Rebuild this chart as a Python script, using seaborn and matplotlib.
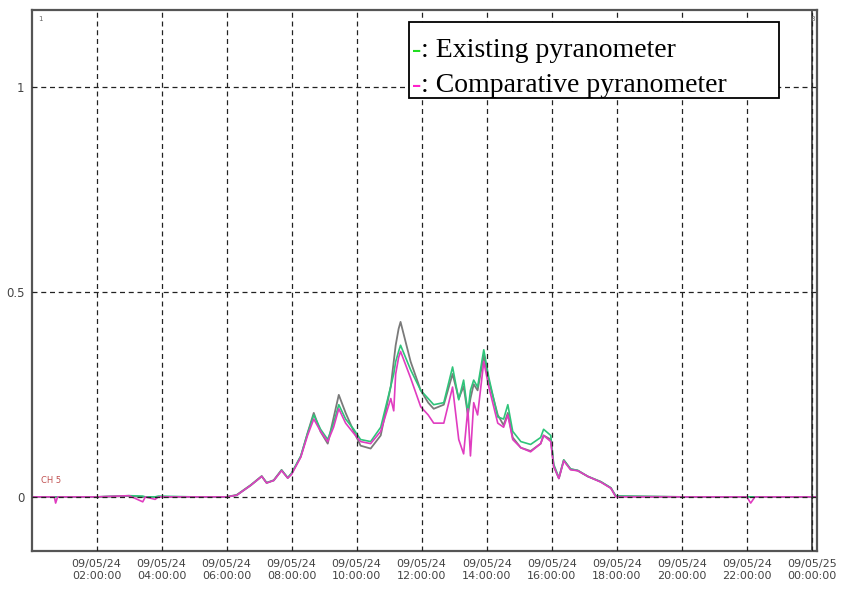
import matplotlib
matplotlib.use("Agg")
import matplotlib.pyplot as plt
from matplotlib.patches import Rectangle
import numpy as np
import pandas as pd
import seaborn as sns

# time of day in hours (09/05/24 00:00 = 0)
hours = [0, 0.70, 0.74, 0.80, 2.0, 3.0, 3.42, 3.5, 3.8, 3.9, 5.0, 6.0,
         6.31, 6.74, 7.08, 7.23, 7.45, 7.69, 7.88, 8.0, 8.28, 8.49, 8.68, 8.89,
         9.11, 9.29, 9.45, 9.66, 9.91, 10.12, 10.43, 10.74, 11.05, 11.14, 11.2, 11.29,
         11.35, 11.66, 11.97, 12.2, 12.37, 12.68, 12.95, 13.14, 13.29, 13.42, 13.5, 13.6,
         13.72, 13.91, 14.06, 14.34, 14.52, 14.65, 14.8, 15.05, 15.35, 15.66, 15.75, 15.97,
         16.06, 16.22, 16.37, 16.58, 16.8, 17.11, 17.51, 17.82, 17.97, 20.0, 22.0, 22.12,
         22.25, 24.15]

ch5_trace = [0, 0, 0, 0, 0, 0.002, 0, 0, 0, 0, 0, 0,
             0.005, 0.029, 0.051, 0.034, 0.041, 0.066, 0.046, 0.058, 0.098, 0.156, 0.205, 0.159,
             0.13, 0.193, 0.249, 0.205, 0.16, 0.125, 0.118, 0.15, 0.27, 0.33, 0.37, 0.41,
             0.427, 0.33, 0.26, 0.23, 0.215, 0.225, 0.3, 0.24, 0.27, 0.2, 0.24, 0.275,
             0.26, 0.345, 0.285, 0.2, 0.175, 0.205, 0.145, 0.12, 0.112, 0.13, 0.15, 0.14,
             0.075, 0.045, 0.09, 0.068, 0.064, 0.05, 0.037, 0.022, 0.002, 0, 0, 0,
             0, 0]

existing = [0, 0, 0, 0, 0, 0.003, 0.002, 0, 0, 0.002, 0, 0,
            0.004, 0.028, 0.05, 0.035, 0.04, 0.065, 0.047, 0.058, 0.1, 0.155, 0.2, 0.165,
            0.14, 0.18, 0.225, 0.19, 0.165, 0.14, 0.135, 0.17, 0.27, 0.3, 0.33, 0.355,
            0.37, 0.31, 0.26, 0.24, 0.225, 0.23, 0.317, 0.237, 0.285, 0.205, 0.26, 0.285,
            0.268, 0.359, 0.293, 0.195, 0.19, 0.225, 0.16, 0.135, 0.128, 0.145, 0.165, 0.15,
            0.08, 0.047, 0.09, 0.068, 0.065, 0.05, 0.037, 0.022, 0.002, 0, 0, 0,
            0, 0]

comparative = [0, 0, -0.015, 0, 0, 0.003, -0.012, 0, -0.006, 0, 0, 0,
               0.004, 0.028, 0.05, 0.034, 0.04, 0.064, 0.046, 0.055, 0.097, 0.15, 0.19, 0.16,
               0.135, 0.17, 0.215, 0.18, 0.155, 0.135, 0.13, 0.16, 0.24, 0.21, 0.3, 0.34,
               0.355, 0.29, 0.22, 0.2, 0.18, 0.18, 0.268, 0.14, 0.105, 0.215, 0.1, 0.23,
               0.2, 0.33, 0.27, 0.18, 0.17, 0.2, 0.14, 0.12, 0.11, 0.13, 0.15, 0.135,
               0.075, 0.045, 0.088, 0.066, 0.064, 0.05, 0.036, 0.021, 0.0, 0, 0, -0.015,
               0, 0]

tick_hours = [2, 4, 6, 8, 10, 12, 14, 16, 18, 20, 22, 24]
tick_labels = ["09/05/24\n02:00:00", "09/05/24\n04:00:00", "09/05/24\n06:00:00",
               "09/05/24\n08:00:00", "09/05/24\n10:00:00", "09/05/24\n12:00:00",
               "09/05/24\n14:00:00", "09/05/24\n16:00:00", "09/05/24\n18:00:00",
               "09/05/24\n20:00:00", "09/05/24\n22:00:00", "09/05/25\n00:00:00"]
y_ticks = [0, 0.5, 1]
y_labels = ["0", "0.5", "1"]

sns.set_style("white")
plt.rcParams['font.family'] = ['DejaVu Sans']

fig = plt.figure(figsize=(8.42, 5.89), dpi=100)
ax = fig.add_axes([0.0375, 0.0645, 0.9328, 0.9185])

sns.lineplot(x=hours, y=ch5_trace, ax=ax, color="#7a7a7a", lw=1.3, estimator=None, sort=False)
sns.lineplot(x=hours, y=existing, ax=ax, color="#2fc47a", lw=1.2, estimator=None, sort=False)
sns.lineplot(x=hours, y=comparative, ax=ax, color="#e03cc0", lw=1.2, estimator=None, sort=False)

ax.set_xlim(0, 24.16)
ax.set_ylim(-0.132, 1.188)
ax.set_xticks(tick_hours)
ax.set_xticklabels(tick_labels, fontsize=8, color="#444444", linespacing=1.15)
ax.set_yticks(y_ticks)
ax.set_yticklabels(y_labels, fontsize=8.5, color="#444444")
ax.tick_params(axis='x', length=0, pad=6)
ax.tick_params(axis='y', length=0, pad=5)
ax.grid(True, color="#222222", linestyle=(0, (4, 3)), lw=0.9)
ax.set_axisbelow(False)
for s in ax.spines.values():
    s.set_color("#555555")
    s.set_linewidth(1.6)
ax.axvline(24, color="#555555", lw=1.4)

ax.text(0.3, 0.03, "CH 5", fontsize=6, color="#c05050", va="bottom")
ax.text(0.2, 1.165, "1", fontsize=5, color="#666666", va="center")
ax.text(23.95, 1.165, "8", fontsize=5, color="#666666", va="center")

# legend box drawn as in the original: coloured dash + text
box = Rectangle((0.481, 0.837), 0.47, 0.141, transform=ax.transAxes, facecolor="white",
                edgecolor="black", lw=1.3, zorder=5)
ax.add_patch(box)
serif = {'family': 'Liberation Serif', 'size': 20}
rows = [("#22dd22", ": Existing pyranometer", 0.925), ("#ff22cc", ": Comparative pyranometer", 0.86)]
for col, txt, yy in rows:
    ax.text(0.4845, yy, "-", color=col, transform=ax.transAxes, va="center", zorder=6, **serif)
    ax.text(0.4962, yy, txt, color="black", transform=ax.transAxes, va="center", zorder=6, **serif)

plt.savefig("out.png", dpi=100)
